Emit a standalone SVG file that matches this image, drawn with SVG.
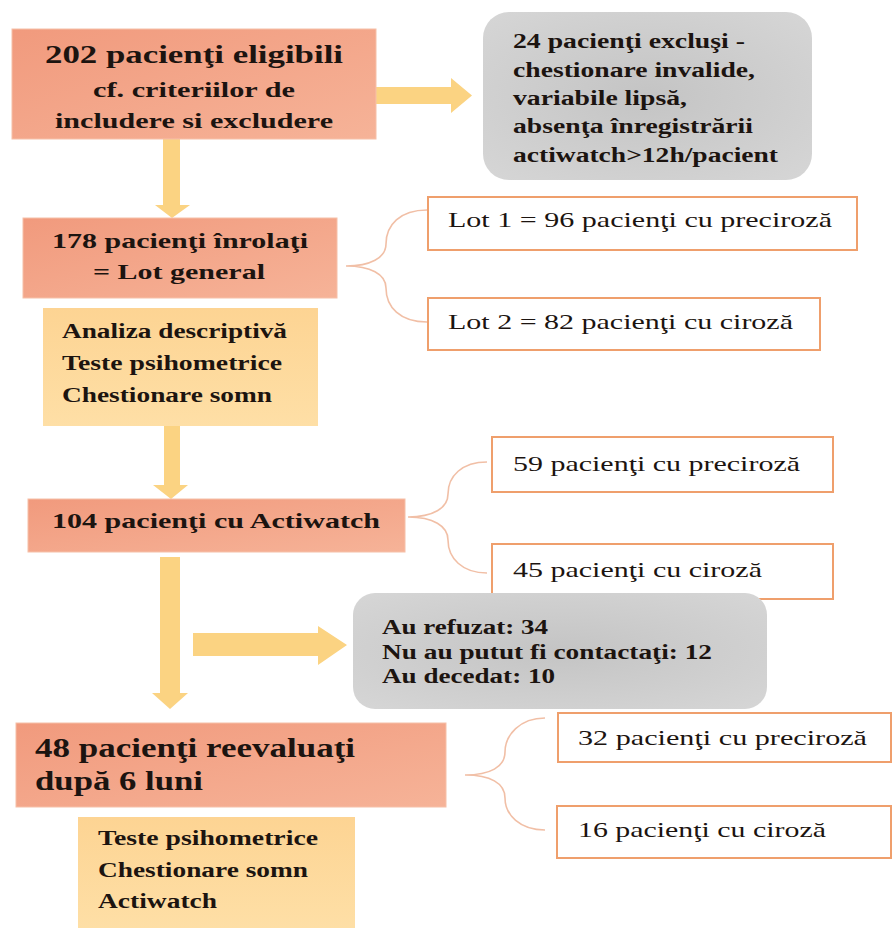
<svg xmlns="http://www.w3.org/2000/svg" width="894" height="930" viewBox="0 0 894 930">
<defs>
<linearGradient id="gSal" x1="0" y1="0" x2="1" y2="1">
<stop offset="0" stop-color="#f19a7d"/>
<stop offset="1" stop-color="#f6b398"/>
</linearGradient>
<linearGradient id="gYel" x1="0" y1="0" x2="0" y2="1">
<stop offset="0" stop-color="#fdd493"/>
<stop offset="1" stop-color="#fedfa6"/>
</linearGradient>
<radialGradient id="gGray" cx="0.5" cy="0.5" r="0.7">
<stop offset="0" stop-color="#c4c4c4"/>
<stop offset="1" stop-color="#d6d6d6"/>
</radialGradient>
</defs>
<style>
.sal{fill:url(#gSal);stroke:#f6c0a8;stroke-width:1}
.yel{fill:url(#gYel);stroke:none}
.gray{fill:url(#gGray);stroke:none}
.wb{fill:#ffffff;stroke:#ef9f6c;stroke-width:2}
.arr{fill:#fbd382;stroke:none}
.brace{fill:none;stroke:#f1bfa6;stroke-width:1.6}
text{font-family:"Liberation Serif","Times New Roman",serif;fill:#1c1410}
.b{font-weight:bold}
</style>
<rect width="894" height="930" fill="#ffffff"/>

<g id="connectors">
<polygon class="arr" points="376,87 451,87 451,78 472,95.5 451,113 451,104 376,104"/>
<polygon class="arr" points="163,139 180,139 180,205 190,205 172,218 155,205 163,205"/>
<polygon class="arr" points="164,426 180,426 180,485 188,485 171,499 153,485 164,485"/>
<polygon class="arr" points="160,557 180,557 180,693 188,693 170,709 152,693 160,693"/>
<polygon class="arr" points="193,633 318,633 318,626 347,645 318,665 318,656 193,656"/>
<path class="brace" d="M427,210 C400,210 386,225 386,244 C386,258 370,266 346,266 C370,266 386,274 386,288 C386,307 400,322 427,322"/>
<path class="brace" d="M487,462 C462,462 448,476 448,494 C448,508 433,517 408,517 C433,517 448,526 448,540 C448,558 462,573 487,573"/>
<path class="brace" d="M545,718 C520,718 505,735 505,752 C505,767 490,775 465,775 C490,775 505,783 505,798 C505,815 520,830 545,830"/>
</g>

<g id="n-eligibili">
<rect class="sal" x="12" y="29" width="364" height="110"/>
<text class="b" x="45" y="63" font-size="26" textLength="298" lengthAdjust="spacingAndGlyphs">202 pacienţi eligibili</text>
<text class="b" x="93" y="97" font-size="22" textLength="202" lengthAdjust="spacingAndGlyphs">cf. criteriilor de</text>
<text class="b" x="55" y="128" font-size="22" textLength="278" lengthAdjust="spacingAndGlyphs">includere si excludere</text>
</g>

<g id="n-exclusi">
<rect class="gray" x="483" y="12" width="329" height="168" rx="26"/>
<text class="b" x="513" y="48" font-size="20" textLength="232" lengthAdjust="spacingAndGlyphs">24 pacienţi excluşi -</text>
<text class="b" x="513" y="77" font-size="20" textLength="242" lengthAdjust="spacingAndGlyphs">chestionare invalide,</text>
<text class="b" x="513" y="105" font-size="20" textLength="174" lengthAdjust="spacingAndGlyphs">variabile lipsă,</text>
<text class="b" x="513" y="133" font-size="20" textLength="240" lengthAdjust="spacingAndGlyphs">absenţa înregistrării</text>
<text class="b" x="513" y="162" font-size="20" textLength="265" lengthAdjust="spacingAndGlyphs">actiwatch&gt;12h/pacient</text>
</g>

<g id="n-inrolati">
<rect class="sal" x="23" y="218" width="314" height="80"/>
<text class="b" x="52" y="248" font-size="22" textLength="256" lengthAdjust="spacingAndGlyphs">178 pacienţi înrolaţi</text>
<text class="b" x="93" y="279" font-size="22" textLength="172" lengthAdjust="spacingAndGlyphs">= Lot general</text>
</g>

<g id="n-lot1">
<rect class="wb" x="428" y="197" width="429" height="53"/>
<text x="448" y="227" font-size="22" textLength="384" lengthAdjust="spacingAndGlyphs">Lot 1 = 96 pacienţi cu preciroză</text>
</g>

<g id="n-lot2">
<rect class="wb" x="428" y="298" width="392" height="52"/>
<text x="448" y="329" font-size="22" textLength="345" lengthAdjust="spacingAndGlyphs">Lot 2 = 82 pacienţi cu ciroză</text>
</g>

<g id="n-analiza">
<rect class="yel" x="43" y="308" width="275" height="118"/>
<text class="b" x="62" y="338" font-size="20" textLength="225" lengthAdjust="spacingAndGlyphs">Analiza descriptivă</text>
<text class="b" x="62" y="370" font-size="20" textLength="220" lengthAdjust="spacingAndGlyphs">Teste psihometrice</text>
<text class="b" x="62" y="402" font-size="20" textLength="210" lengthAdjust="spacingAndGlyphs">Chestionare somn</text>
</g>

<g id="n-actiwatch">
<rect class="sal" x="28" y="499" width="377" height="53"/>
<text class="b" x="52" y="528" font-size="22" textLength="328" lengthAdjust="spacingAndGlyphs">104 pacienţi cu Actiwatch</text>
</g>

<g id="n-59">
<rect class="wb" x="492" y="437" width="341" height="55"/>
<text x="513" y="471" font-size="22" textLength="287" lengthAdjust="spacingAndGlyphs">59 pacienţi cu preciroză</text>
</g>

<g id="n-45">
<rect class="wb" x="492" y="544" width="341" height="55"/>
<text x="513" y="577" font-size="22" textLength="249" lengthAdjust="spacingAndGlyphs">45 pacienţi cu ciroză</text>
</g>

<g id="n-pierduti">
<rect class="gray" x="353" y="593" width="414" height="116" rx="22"/>
<text class="b" x="382" y="634" font-size="20" textLength="166" lengthAdjust="spacingAndGlyphs">Au refuzat: 34</text>
<text class="b" x="382" y="659" font-size="20" textLength="330" lengthAdjust="spacingAndGlyphs">Nu au putut fi contactaţi: 12</text>
<text class="b" x="382" y="683" font-size="20" textLength="173" lengthAdjust="spacingAndGlyphs">Au decedat: 10</text>
</g>

<g id="n-reevaluati">
<rect class="sal" x="16" y="723" width="430" height="84"/>
<text class="b" x="35" y="757" font-size="27" textLength="320" lengthAdjust="spacingAndGlyphs">48 pacienţi reevaluaţi</text>
<text class="b" x="35" y="790" font-size="27" textLength="168" lengthAdjust="spacingAndGlyphs">după 6 luni</text>
</g>

<g id="n-teste">
<rect class="yel" x="78" y="817" width="277" height="111"/>
<text class="b" x="98" y="845" font-size="20" textLength="220" lengthAdjust="spacingAndGlyphs">Teste psihometrice</text>
<text class="b" x="98" y="877" font-size="20" textLength="210" lengthAdjust="spacingAndGlyphs">Chestionare somn</text>
<text class="b" x="98" y="908" font-size="20" textLength="119" lengthAdjust="spacingAndGlyphs">Actiwatch</text>
</g>

<g id="n-32">
<rect class="wb" x="558" y="713" width="333" height="49"/>
<text x="578" y="745" font-size="22" textLength="289" lengthAdjust="spacingAndGlyphs">32 pacienţi cu preciroză</text>
</g>

<g id="n-16">
<rect class="wb" x="557" y="806" width="334" height="52"/>
<text x="578" y="837" font-size="22" textLength="248" lengthAdjust="spacingAndGlyphs">16 pacienţi cu ciroză</text>
</g>
</svg>
